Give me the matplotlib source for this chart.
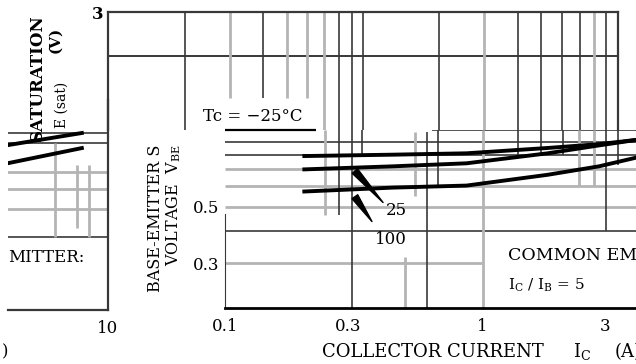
import matplotlib.pyplot as plt

plt.rcParams['font.family'] = ['DejaVu Serif']
plt.rcParams['mathtext.fontset'] = 'dejavuserif'

W, H = 636, 364

# base-emitter voltage vs collector current (A), three case temperatures
ic_amps = [0.2, 0.45, 0.87, 1.8, 2.85, 4.0]
vbe_m25 = [0.79, 0.80, 0.81, 0.85, 0.88, 0.915]
vbe_25 = [0.70, 0.72, 0.74, 0.81, 0.87, 0.915]
vbe_100 = [0.573, 0.594, 0.605, 0.667, 0.72, 0.78]
x_ticks = [0.1, 0.3, 1, 3]
x_tick_labels = ['0.1', '0.3', '1', '3']
y_ticks = [0.3, 0.5]
y_tick_labels = ['0.3', '0.5']

# grid of the main panel: (value, start, end)
main_hgrid_dark = [(1.0, 0.64, 4.0), (0.9, 0.1, 4.0), (0.8, 0.1, 4.0), (0.4, 0.1, 4.0)]
main_hgrid_gray = [(0.7, 0.1, 4.0), (0.6, 0.1, 4.0), (0.5, 0.1, 4.0), (0.3, 0.1, 1.0)]
main_vgrid_dark = [(0.278, 0.465, 1.0), (0.312, 0.2, 1.0), (0.341, 0.79, 1.0),
                   (0.611, 0.2, 0.98), (0.674, 0.6, 1.0), (1.38, 0.8, 1.0),
                   (1.70, 0.8, 1.0), (2.06, 0.8, 1.0), (3.04, 0.4, 1.0),
                   (3.38, 0.73, 1.0)]
main_vgrid_gray = [(0.245, 0.465, 1.0), (0.50, 0.2, 0.316), (0.549, 0.55, 0.98),
                   (1.01, 0.2, 1.0), (2.38, 0.6, 1.0), (2.73, 0.6, 1.0)]

# upper grid box (another panel on the same sheet)
top_vgrid_dark = [(0.036, 1.0), (0.1, 1.35), (0.27, 1.0), (0.32, 1.0), (0.37, 1.0),
                  (1.0, 1.0), (2.8, 1.0), (3.8, 1.0), (5.0, 1.0), (6.3, 1.0),
                  (8.9, 1.0)]
top_vgrid_gray = [(0.065, 1.35), (0.137, 1.35), (0.178, 1.35), (0.222, 1.0),
                  (1.8, 1.0), (7.6, 1.0)]
top_hgrid = [2.0]

# saturation voltage panel fragment on the left
sat_ic = [2.7, 7.1]
sat_upper = [0.896, 1.0]
sat_lower = [0.76, 0.872]
sat_hgrid_dark = [1.0, 0.91, 0.39]
sat_hgrid_gray = [0.7, 0.6, 0.5]
sat_vgrid_gray = [(5.0, 0.39, 0.91), (6.7, 0.42, 0.746), (7.8, 0.39, 0.746)]

DARK = '#383838'
GRAY = '#b4b4b4'


def box(x0, y0, x1, y1):
    return [x0 / W, 1 - y1 / H, (x1 - x0) / W, (y1 - y0) / H]


def ftext(x, y, s, **kw):
    fig.text(x / W, 1 - y / H, s, **kw)


fig = plt.figure(figsize=(W / 100, H / 100), dpi=100)

# ---- left fragment
axl = fig.add_axes(box(8, 100, 108, 310))
axl.set_xscale('log')
axl.set_yscale('log')
axl.set_xlim(2.7, 10)
axl.set_ylim(0.2, 1.35)
axl.minorticks_off()
for s in ['top', 'left']:
    axl.spines[s].set_visible(False)
axl.spines['right'].set_color(DARK)
axl.spines['right'].set_linewidth(1.6)
axl.spines['bottom'].set_color(DARK)
axl.spines['bottom'].set_linewidth(1.6)
axl.set_yticks([])
axl.set_xticks([10], labels=['10'])
axl.tick_params(length=0, pad=7, labelsize=12)
for v in sat_hgrid_dark:
    axl.axhline(v, color=DARK, lw=1.2)
for v in sat_hgrid_gray:
    axl.axhline(v, color=GRAY, lw=2)
for v, lo, hi in sat_vgrid_gray:
    axl.vlines(v, lo, hi, color=GRAY, lw=2)
axl.plot(sat_ic, sat_upper, color='black', lw=2.8)
axl.plot(sat_ic, sat_lower, color='black', lw=2.8)

# ---- main base-emitter panel
ax = fig.add_axes(box(225, 130, 636, 308))
ax.set_xscale('log')
ax.set_yscale('log')
ax.set_xlim(0.1, 3.97)
ax.set_ylim(0.2, 1.0)
ax.minorticks_off()
ax.spines['top'].set_visible(False)
ax.spines['right'].set_visible(False)
ax.spines['bottom'].set_color('black')
ax.spines['bottom'].set_linewidth(2)
ax.spines['left'].set_color(DARK)
ax.spines['left'].set_bounds(0.2, 0.47)
ax.set_xticks(x_ticks, labels=x_tick_labels)
ax.set_yticks(y_ticks, labels=y_tick_labels)
ax.tick_params(length=0, labelsize=12)
ax.tick_params(axis='x', pad=7)
ax.tick_params(axis='y', pad=4)
for v, a, b in main_hgrid_dark:
    ax.hlines(v, a, b, color=DARK, lw=1.2)
for v, a, b in main_hgrid_gray:
    ax.hlines(v, a, b, color=GRAY, lw=2)
for v, lo, hi in main_vgrid_dark:
    ax.vlines(v, lo, hi, color=DARK, lw=1.2)
for v, lo, hi in main_vgrid_gray:
    ax.vlines(v, lo, hi, color=GRAY, lw=2)
for vbe in (vbe_m25, vbe_25, vbe_100):
    ax.plot(ic_amps, vbe, color='black', lw=2.8, solid_capstyle='butt')

# Tc label with its underline
ax.text(0.128, 1.125, 'Tc = \u221225\u00b0C', fontsize=12, ha='center', va='center')
ax.hlines(1.0, 0.1, 0.225, color='black', lw=1.6, clip_on=False)

# temperature leaders
ax.annotate('', xy=(0.412, 0.519), xytext=(0.32, 0.69),
            arrowprops=dict(arrowstyle='wedge,tail_width=0.5', color='black',
                            shrinkA=0, shrinkB=0))
ax.annotate('', xy=(0.373, 0.437), xytext=(0.32, 0.547),
            arrowprops=dict(arrowstyle='wedge,tail_width=0.5', color='black',
                            shrinkA=0, shrinkB=0))
ax.text(0.463, 0.482, '25', fontsize=12, ha='center', va='center')
ax.text(0.443, 0.372, '100', fontsize=12, ha='center', va='center')

# ---- upper grid box
axt = fig.add_axes(box(108, 12, 618, 130))
axt.set_facecolor('none')
axt.set_xscale('log')
axt.set_yscale('log')
axt.set_xlim(0.01316, 10.4)
axt.set_ylim(1.0, 3.0)
axt.minorticks_off()
axt.spines['bottom'].set_visible(False)
for s in ['top', 'left', 'right']:
    axt.spines[s].set_color(DARK)
    axt.spines[s].set_linewidth(1.6)
axt.set_xticks([])
axt.set_yticks([3], labels=['3'])
axt.tick_params(length=0, pad=3, labelsize=12)
for lab in axt.get_yticklabels():
    lab.set_fontweight('bold')
for v in top_hgrid:
    axt.axhline(v, color=DARK, lw=1.4)
for v, lo in top_vgrid_dark:
    axt.vlines(v, lo, 3.0, color=DARK, lw=1.2)
for v, lo in top_vgrid_gray:
    axt.vlines(v, lo, 3.0, color=GRAY, lw=2)

# ---- texts
ftext(37, 78, 'SATURATION', rotation=90, fontsize=12, fontweight='bold',
      ha='center', va='center')
ftext(55, 40, '(V)', rotation=90, fontsize=11, fontweight='bold',
      ha='center', va='center')
ftext(62, 105, 'E (sat)', rotation=90, fontsize=10, ha='center', va='center')
ftext(8, 257, 'MITTER:', fontsize=12, ha='left', va='center')
ftext(5, 352, ')', fontsize=12, ha='center', va='center')

ftext(155, 218, 'BASE-EMITTER S', rotation=90, fontsize=11.5,
      ha='center', va='center')
ftext(174, 205, r'VOLTAGE  V$_{\rm BE}$', rotation=90, fontsize=11.5,
      ha='center', va='center')

ftext(508, 255, 'COMMON EMITTER', fontsize=12.5, ha='left', va='center')
ftext(508, 285, r'I$_{\rm C}$ / I$_{\rm B}$ = 5', fontsize=11, ha='left', va='center')

ftext(322, 352, 'COLLECTOR CURRENT', fontsize=13, ha='left', va='center')
ftext(573, 352, r'I$_{\rm C}$', fontsize=13, ha='left', va='center')
ftext(615, 352, '(A)', fontsize=13, ha='left', va='center')

fig.savefig('out.png', dpi=100)
